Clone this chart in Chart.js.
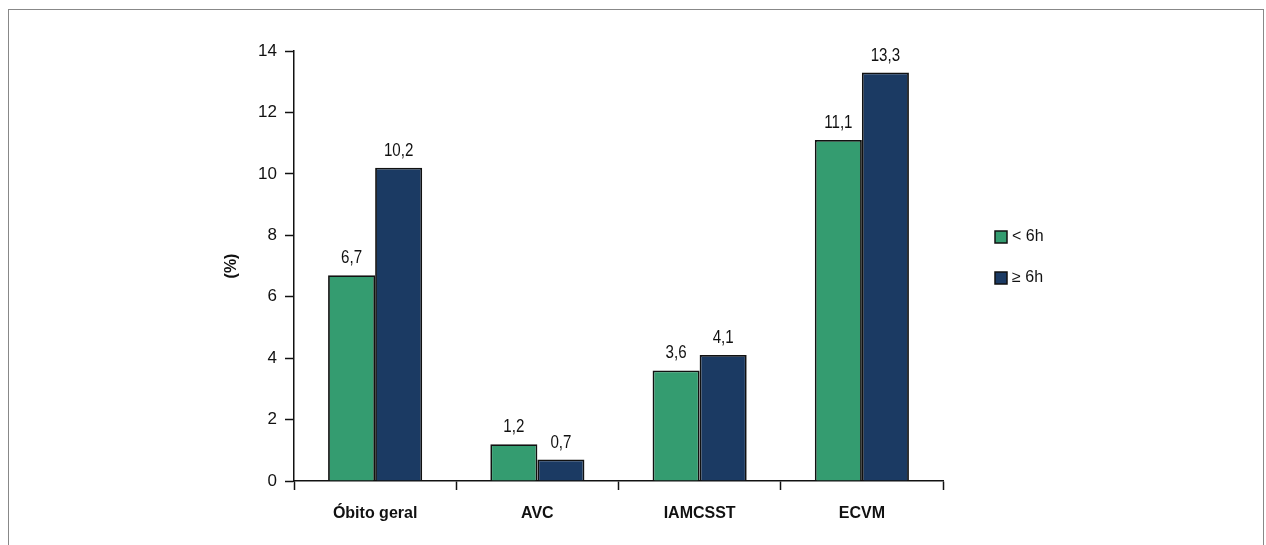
<!DOCTYPE html>
<html>
<head>
<meta charset="utf-8">
<script src="https://cdn.jsdelivr.net/npm/chart.js@4/dist/chart.umd.min.js"></script>
<style>
  html, body { margin: 0; padding: 0; background: #fff; overflow: hidden; }
  #wrap { position: relative; width: 1266px; height: 545px; }
  #frame { position: absolute; left: 8px; top: 9px; width: 1256px; height: 600px;
           border: 1px solid #888; box-sizing: border-box; pointer-events: none; }
</style>
</head>
<body>
<div id="wrap">
  <canvas id="chart"></canvas>
  <div id="frame"></div>
</div>
<script>
// data
const categories = ["Óbito geral", "AVC", "IAMCSST", "ECVM"];
const seriesLabels = ["< 6h", "≥ 6h"];
const under6h = [6.7, 1.2, 3.6, 11.1];
const over6h = [10.2, 0.7, 4.1, 13.3];
const yTicks = [0, 2, 4, 6, 8, 10, 12, 14];

const GREEN = "rgb(52, 156, 112)";
const BLUE = "rgb(27, 58, 99)";
const FONT = "'Liberation Sans', Arial, sans-serif";

const fmt = v => v.toFixed(1).replace(".", ",");

// value labels above the bars (squeezed a bit, the original uses a narrow face)
const valueLabels = {
  id: "valueLabels",
  afterDatasetsDraw(chart) {
    const ctx = chart.ctx;
    ctx.save();
    ctx.font = "18px " + FONT;
    ctx.fillStyle = "#111";
    ctx.textAlign = "center";
    ctx.textBaseline = "alphabetic";
    chart.data.datasets.forEach((ds, i) => {
      chart.getDatasetMeta(i).data.forEach((bar, j) => {
        ctx.save();
        ctx.translate(bar.x, bar.y - 12);
        ctx.scale(0.84, 1);
        ctx.fillText(fmt(ds.data[j]), 0, 0);
        ctx.restore();
      });
    });
    ctx.restore();
  }
};

// legend on the right
const sideLegend = {
  id: "sideLegend",
  afterDraw(chart) {
    const ctx = chart.ctx;
    ctx.save();
    ctx.font = "16px " + FONT;
    ctx.textBaseline = "middle";
    ctx.textAlign = "left";
    chart.data.datasets.forEach((ds, i) => {
      const y = 237 + i * 41;
      ctx.fillStyle = ds.backgroundColor;
      ctx.fillRect(995, y - 6, 12, 12);
      ctx.strokeStyle = "#111";
      ctx.lineWidth = 1.5;
      ctx.strokeRect(995, y - 6, 12, 12);
      ctx.fillStyle = "#111";
      ctx.fillText(ds.label, 1012, y);
    });
    ctx.restore();
  }
};

new Chart(document.getElementById("chart").getContext("2d"), {
  type: "bar",
  data: {
    labels: categories,
    datasets: [
      { label: seriesLabels[0], data: under6h, backgroundColor: GREEN },
      { label: seriesLabels[1], data: over6h, backgroundColor: BLUE }
    ]
  },
  options: {
    responsive: true,
    maintainAspectRatio: false,
    animation: false,
    layout: { padding: { left: 214, right: 323, top: 51, bottom: 0 } },
    datasets: {
      bar: {
        borderColor: "#111",
        borderWidth: 1.8,
        categoryPercentage: 0.58,
        barPercentage: 1
      }
    },
    plugins: { legend: { display: false }, tooltip: { enabled: false } },
    scales: {
      x: {
        offset: true,
        afterFit: s => { s.height = 64; },
        grid: { offset: true, drawOnChartArea: false, tickLength: 9, tickColor: "#111", tickWidth: 1.5 },
        border: { color: "#111", width: 1.5 },
        ticks: { color: "#111", padding: 14, font: { family: FONT, size: 16, weight: "bold" } }
      },
      y: {
        min: 0,
        max: 14,
        afterFit: s => { s.width = 80; },
        afterBuildTicks: s => { s.ticks = yTicks.map(v => ({ value: v })); },
        grid: { drawOnChartArea: false, tickLength: 9, tickColor: "#111", tickWidth: 1.5 },
        border: { color: "#111", width: 1.5 },
        ticks: { color: "#111", padding: 8, font: { family: FONT, size: 17 } },
        title: {
          display: true,
          text: "(%)",
          color: "#111",
          padding: { top: 8, bottom: 0 },
          font: { family: FONT, size: 16, weight: "bold" }
        }
      }
    }
  },
  plugins: [valueLabels, sideLegend]
});
</script>
</body>
</html>
